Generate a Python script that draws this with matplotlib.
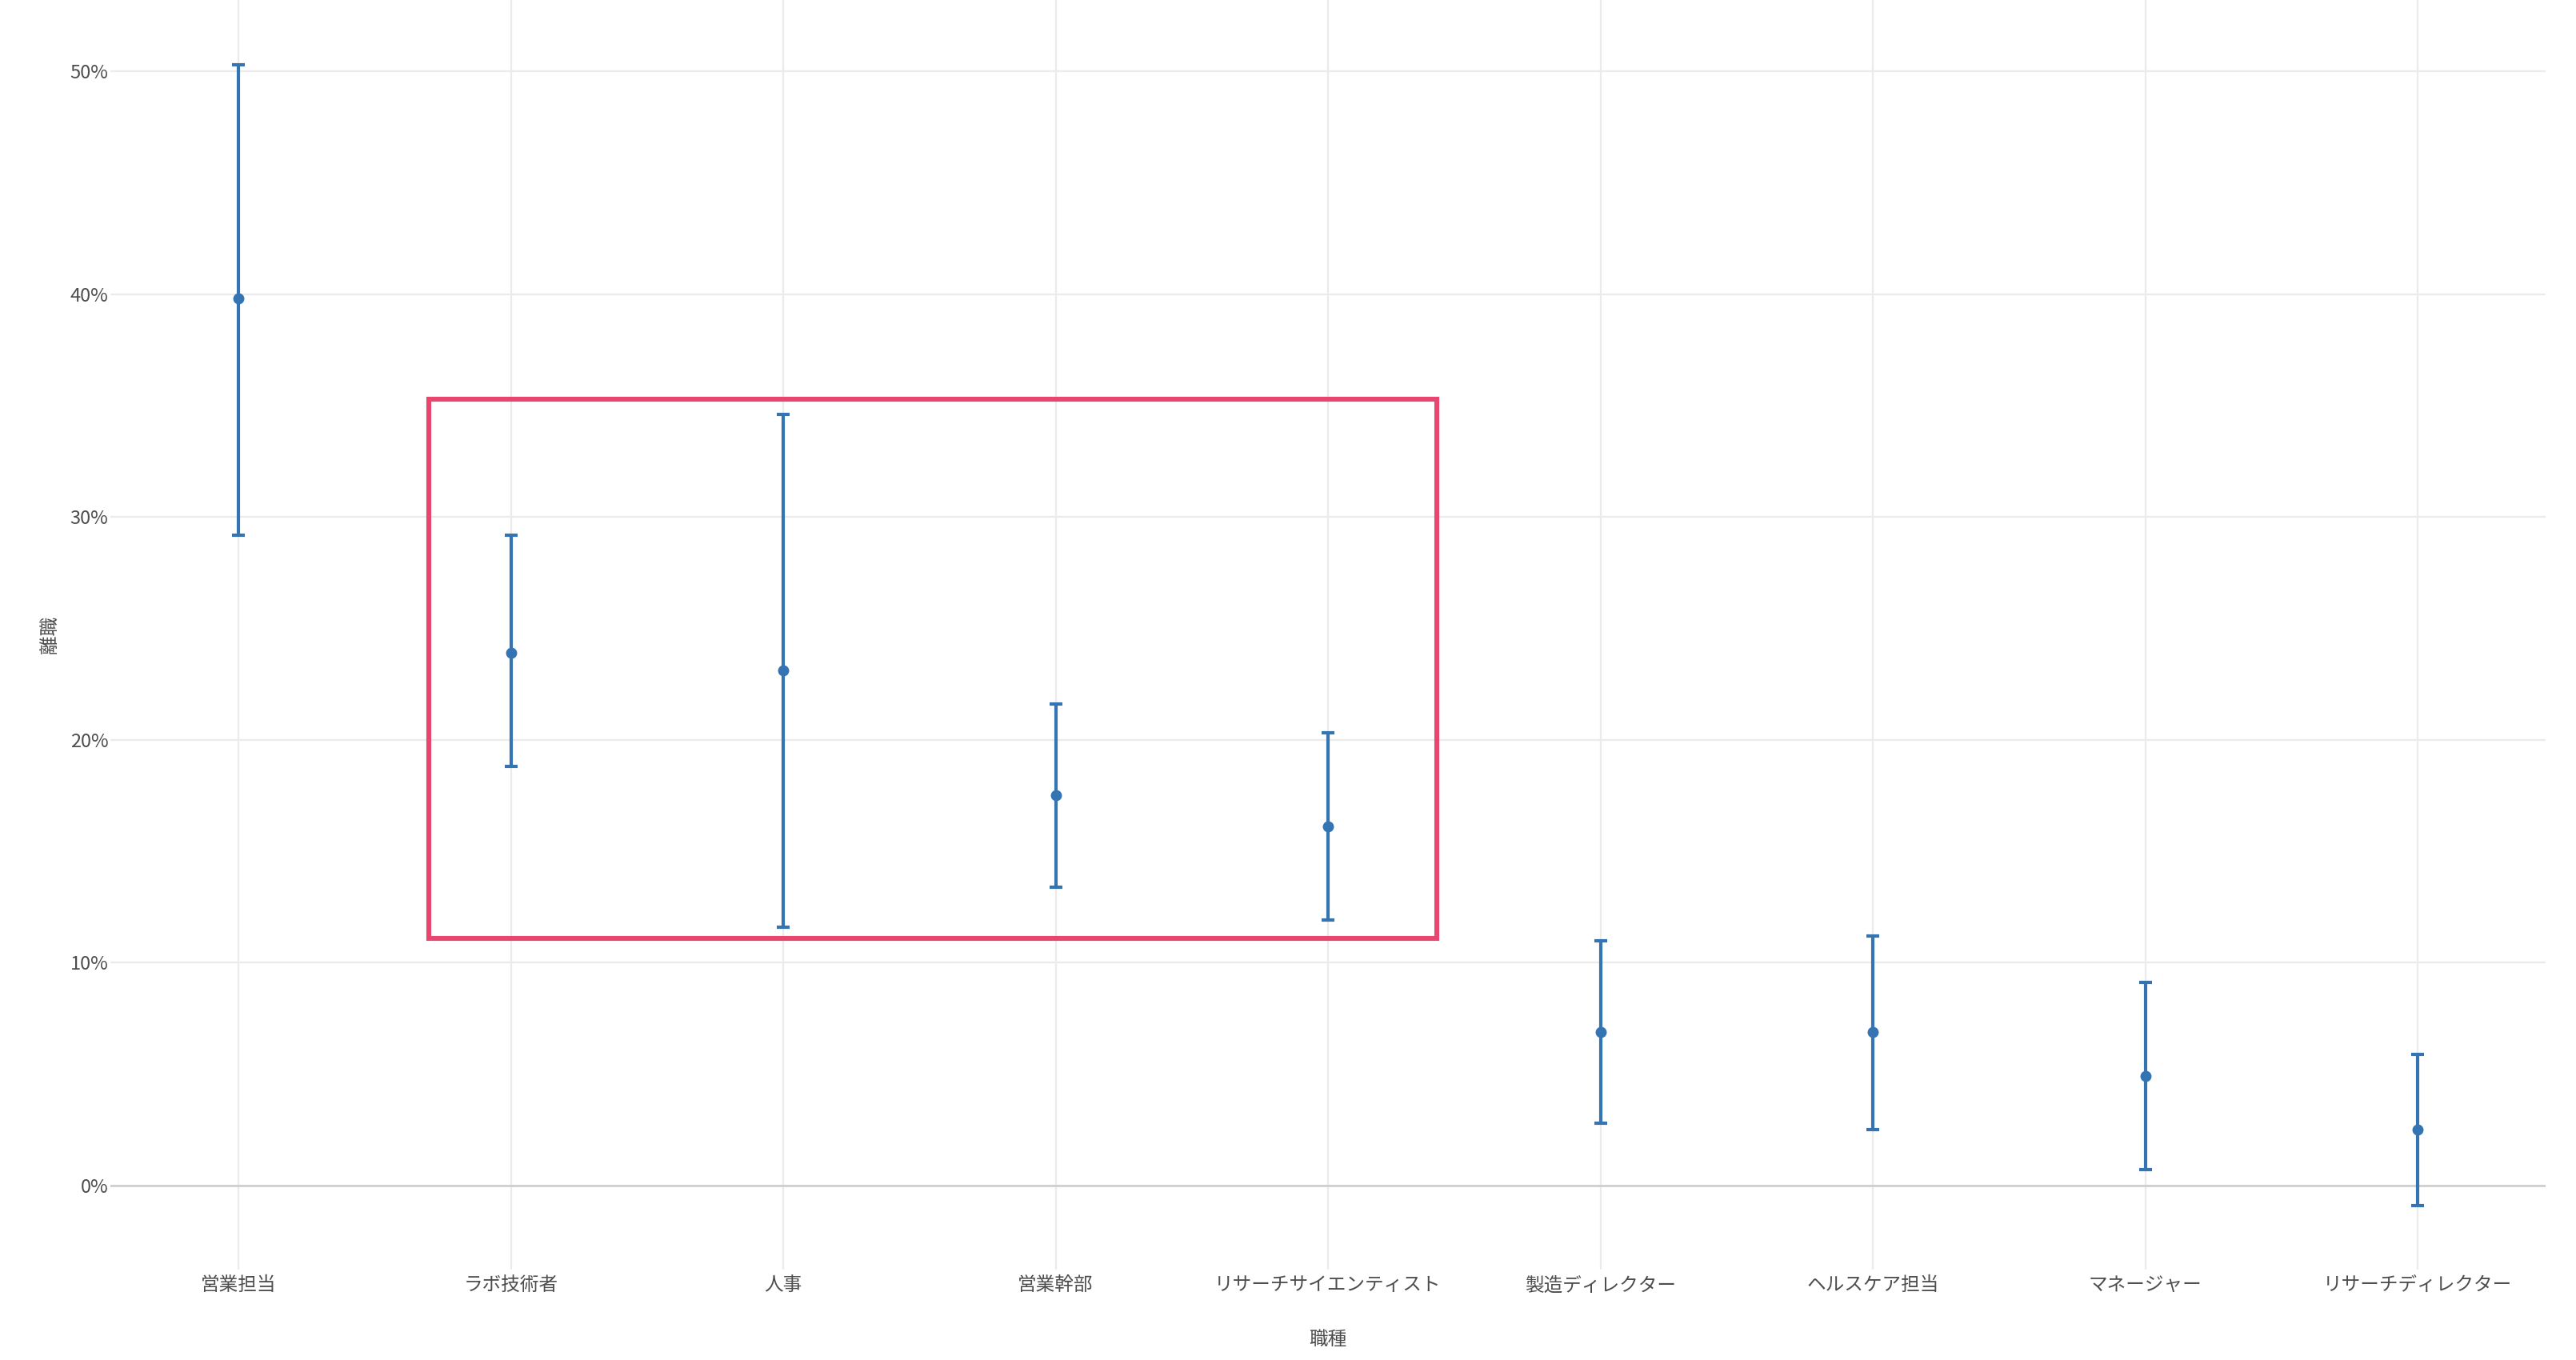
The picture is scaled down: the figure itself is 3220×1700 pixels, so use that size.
import matplotlib.pyplot as plt
from matplotlib.patches import Rectangle
from matplotlib.ticker import FuncFormatter
import numpy as np

plt.rcParams['font.family'] = ['Noto Sans CJK JP', 'DejaVu Sans']

jobs = ['営業担当', 'ラボ技術者', '人事', '営業幹部', 'リサーチサイエンティスト',
        '製造ディレクター', 'ヘルスケア担当', 'マネージャー', 'リサーチディレクター']
rate = [39.8, 23.9, 23.1, 17.5, 16.1, 6.9, 6.9, 4.9, 2.5]
upper = [50.3, 29.2, 34.6, 21.6, 20.3, 11.0, 11.2, 9.1, 5.9]
lower = [29.2, 18.8, 11.6, 13.4, 11.9, 2.8, 2.5, 0.7, -0.9]

# highlight box (data coords)
box_x = (0.70, 4.40)
box_y = (11.1, 35.3)

blue = '#3574b2'
red = '#e8466f'
txt = '#4d4d4d'

fig = plt.figure(figsize=(16.1, 8.5), dpi=200)
ax = fig.add_axes([0.0429, 0.0665, 0.9453, 0.9335])

x = np.arange(len(jobs))
r = np.array(rate)
yerr = [r - np.array(lower), np.array(upper) - r]
ax.errorbar(x, r, yerr=yerr, fmt='o', color=blue, ms=4, lw=1.5,
            capsize=3, capthick=1.5, zorder=3)

ax.add_patch(Rectangle((box_x[0], box_y[0]), box_x[1] - box_x[0], box_y[1] - box_y[0],
                       fill=False, ec=red, lw=2.2, zorder=4))

ax.axhline(0, color='#cccccc', lw=0.9, zorder=1)
ax.set_xlim(-0.47, 8.47)
ax.set_ylim(-3.77, 53.2)
ax.set_yticks([0, 10, 20, 30, 40, 50])
ax.yaxis.set_major_formatter(FuncFormatter(lambda v, p: f'{v:.0f}%'))
ax.set_xticks(x)
ax.set_xticklabels(jobs)
ax.grid(True, color='#ebebeb', lw=0.8, zorder=0)
ax.set_axisbelow(True)
for s in ax.spines.values():
    s.set_visible(False)
ax.tick_params(length=0, labelsize=8.5, labelcolor=txt)
ax.tick_params(axis='x', pad=3)
ax.tick_params(axis='y', pad=1)

ax.set_xlabel('職種', fontsize=8.5, color=txt, labelpad=16)
ax.set_ylabel('離職', fontsize=8.5, color=txt, labelpad=5)

fig.savefig('out.png', dpi=200, facecolor='white')
